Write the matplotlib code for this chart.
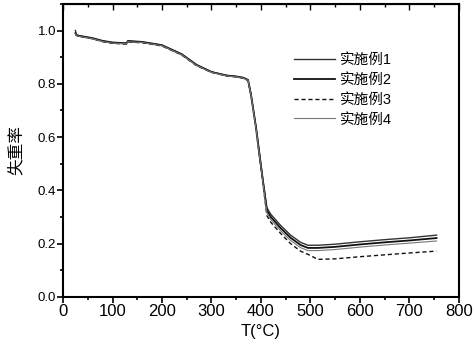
import matplotlib
matplotlib.use('Agg')
import matplotlib.pyplot as plt
from matplotlib.ticker import MultipleLocator

plt.rcParams['font.family'] = ['Liberation Sans', 'Noto Sans CJK SC', 'DejaVu Sans']

temp = [25, 27, 30, 60, 80, 100, 128, 131, 160, 200, 240, 270, 300, 330, 350, 365,
        374, 380, 390, 404, 412, 420, 440, 460, 480, 495, 515, 550, 600, 650, 700, 755]

ex1 = [1.0, 0.985, 0.982, 0.972, 0.962, 0.956, 0.953, 0.962, 0.958, 0.946, 0.912, 0.872,
       0.845, 0.832, 0.828, 0.823, 0.815, 0.76, 0.64, 0.44, 0.335, 0.31, 0.268, 0.232,
       0.205, 0.194, 0.194, 0.198, 0.207, 0.215, 0.222, 0.232]
ex2 = [0.99, 0.983, 0.98, 0.97, 0.96, 0.954, 0.951, 0.959, 0.956, 0.944, 0.91, 0.87,
       0.844, 0.831, 0.827, 0.822, 0.814, 0.758, 0.636, 0.435, 0.325, 0.30, 0.258, 0.222,
       0.195, 0.184, 0.184, 0.188, 0.197, 0.205, 0.212, 0.221]
ex3 = [0.985, 0.982, 0.979, 0.969, 0.958, 0.952, 0.949, 0.957, 0.954, 0.942, 0.908, 0.868,
       0.843, 0.83, 0.826, 0.821, 0.812, 0.755, 0.63, 0.425, 0.305, 0.28, 0.238, 0.2,
       0.172, 0.16, 0.141, 0.143, 0.151, 0.158, 0.165, 0.172]
ex4 = [0.988, 0.982, 0.979, 0.969, 0.959, 0.953, 0.95, 0.958, 0.955, 0.943, 0.909, 0.869,
       0.843, 0.83, 0.826, 0.821, 0.813, 0.757, 0.633, 0.43, 0.315, 0.29, 0.248, 0.212,
       0.185, 0.174, 0.174, 0.178, 0.187, 0.195, 0.202, 0.21]

labels = ['实施例1', '实施例2', '实施例3', '实施例4']

fig = plt.figure(figsize=(4.74, 3.51), dpi=100)
ax = fig.add_axes([0.133, 0.154, 0.835, 0.835])

ax.plot(temp, ex1, color='#333333', lw=1.0, ls='-', label=labels[0])
ax.plot(temp, ex2, color='#111111', lw=1.3, ls='-', label=labels[1])
ax.plot(temp, ex3, color='#111111', lw=1.0, ls=(0, (3, 2)), label=labels[2])
ax.plot(temp, ex4, color='#777777', lw=0.8, ls='-', label=labels[3])

ax.set_xlim(0, 800)
ax.set_ylim(0, 1.1)
ax.xaxis.set_major_locator(MultipleLocator(100))
ax.xaxis.set_minor_locator(MultipleLocator(50))
ax.yaxis.set_major_locator(MultipleLocator(0.2))
ax.yaxis.set_minor_locator(MultipleLocator(0.1))
ax.tick_params(axis='x', which='major', direction='out', length=4, width=1.2, labelsize=12, pad=1)
ax.tick_params(axis='y', which='major', direction='out', length=4, width=1.2, labelsize=9.5, pad=1)
ax.tick_params(which='minor', direction='out', length=2.5, width=1.2)

# inward ticks along the top edge, no labels
top = ax.secondary_xaxis('top')
top.xaxis.set_major_locator(MultipleLocator(100))
top.xaxis.set_minor_locator(MultipleLocator(50))
top.tick_params(which='major', direction='in', length=4, width=1.0, labeltop=False)
top.tick_params(which='minor', direction='in', length=2.5, width=1.0)

for s in ax.spines.values():
    s.set_linewidth(1.5)

ax.set_xlabel('T(°C)', fontsize=12, labelpad=4)
ax.set_ylabel('失重率', fontsize=12, labelpad=10)

ax.legend(loc='upper left', bbox_to_anchor=(0.55, 0.877), frameon=False, fontsize=10.5,
          handlelength=2.8, labelspacing=0.4, handletextpad=0.35)

fig.savefig('out.png', dpi=100)
